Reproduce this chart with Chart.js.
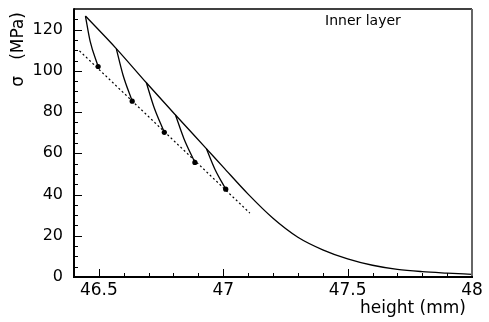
<!DOCTYPE html>
<html>
<head>
<meta charset="utf-8">
<script src="https://cdn.jsdelivr.net/npm/chart.js@4.4.1/dist/chart.umd.min.js"></script>
<style>
  html, body { margin: 0; padding: 0; background: #fff; }
  #wrap { width: 489px; height: 322px; }
</style>
</head>
<body>
<div id="wrap"><canvas id="c" width="489" height="322"></canvas></div>
<script>
// ---- data ----
const xTicks = [46.5, 47, 47.5, 48];
const xTickLabels = ['46.5', '47', '47.5', '48'];
const yTicks = [0, 20, 40, 60, 80, 100, 120];
const yTickLabels = ['0', '20', '40', '60', '80', '100', '120'];
const xMinorTicks = [46.6, 46.7, 46.8, 46.9, 47.1, 47.2, 47.3, 47.4, 47.6, 47.7, 47.8, 47.9];
const yMinorTicks = [5, 10, 15, 25, 30, 35, 45, 50, 55, 65, 70, 75, 85, 90, 95, 105, 110, 115, 125];

// loading envelope (solid)
const envX = [46.446, 46.570, 46.691, 46.808, 46.932, 47.0, 47.1, 47.2, 47.3, 47.4, 47.5, 47.6, 47.7, 47.8, 47.9, 48.0];
const envY = [126.6, 110.8, 94.2, 78.6, 62.3, 53.3, 40.2, 28.5, 19.3, 13.2, 8.8, 5.7, 3.7, 2.6, 1.9, 1.3];

// unloading branches (solid)
const unload1X = [46.446, 46.465, 46.497];
const unload1Y = [126.6, 114.3, 102.1];
const unload2X = [46.570, 46.597, 46.634];
const unload2Y = [110.8, 98.0, 85.3];
const unload3X = [46.691, 46.722, 46.763];
const unload3Y = [94.2, 82.2, 70.2];
const unload4X = [46.808, 46.842, 46.886];
const unload4Y = [78.6, 67.1, 55.6];
const unload5X = [46.932, 46.966, 47.010];
const unload5Y = [62.3, 52.4, 42.6];

// end points (filled markers)
const dotX = [46.497, 46.634, 46.763, 46.886, 47.010];
const dotY = [102.1, 85.3, 70.2, 55.6, 42.6];

// dotted line
const fitX = [46.422, 47.107];
const fitY = [109.7, 31.0];

const pts = (xs, ys) => xs.map((v, i) => ({ x: v, y: ys[i] }));

const FONT = "'DejaVu Sans', sans-serif";

const lineDs = (xs, ys) => ({
  data: pts(xs, ys), borderColor: '#000', borderWidth: 1.3, pointRadius: 0,
  showLine: true, fill: false, cubicInterpolationMode: 'monotone'
});

const framePlugin = {
  id: 'frame',
  afterDraw(chart) {
    const { ctx, chartArea: { left, right, top, bottom }, scales: { x, y } } = chart;
    ctx.save();
    ctx.strokeStyle = '#000';
    ctx.lineWidth = 1;
    const seg = (x1, y1, x2, y2) => { ctx.beginPath(); ctx.moveTo(x1, y1); ctx.lineTo(x2, y2); ctx.stroke(); };
    xTicks.forEach(v => { const p = Math.round(x.getPixelForValue(v)) + 0.5; seg(p, bottom, p, bottom - 8); });
    xMinorTicks.forEach(v => { const p = Math.round(x.getPixelForValue(v)) + 0.5; seg(p, bottom, p, bottom - 4); });
    yTicks.forEach(v => { const p = Math.round(y.getPixelForValue(v)) + 0.5; seg(left, p, left + 8, p); });
    yMinorTicks.forEach(v => { const p = Math.round(y.getPixelForValue(v)) + 0.5; seg(left, p, left + 4, p); });
    // frame
    ctx.lineWidth = 1.5;
    seg(left, top, right, top);
    ctx.strokeStyle = '#666';
    ctx.lineWidth = 2;
    seg(right, top, right, bottom);
    ctx.strokeStyle = '#000';
    seg(left, top - 0.75, left, bottom + 1);
    seg(left - 1, bottom, right + 1, bottom);
    // texts
    ctx.fillStyle = '#000';
    ctx.font = '17px ' + FONT;
    ctx.textAlign = 'right';
    ctx.textBaseline = 'alphabetic';
    ctx.fillText('height (mm)', 466, 313);
    ctx.font = '14px ' + FONT;
    ctx.textAlign = 'left';
    ctx.fillText('Inner layer', 325, 25);
    ctx.font = '17px ' + FONT;
    ctx.translate(19, 12);
    ctx.rotate(-Math.PI / 2);
    ctx.textAlign = 'right';
    ctx.textBaseline = 'middle';
    ctx.fillText('\u03c3   (MPa)', 0, 0);
    ctx.restore();
  }
};

new Chart(document.getElementById('c'), {
  type: 'scatter',
  data: {
    datasets: [
      lineDs(envX, envY),
      lineDs(unload1X, unload1Y),
      lineDs(unload2X, unload2Y),
      lineDs(unload3X, unload3Y),
      lineDs(unload4X, unload4Y),
      lineDs(unload5X, unload5Y),
      { data: pts(fitX, fitY), borderColor: '#000', borderWidth: 1.2, borderDash: [2, 2.5],
        pointRadius: 0, showLine: true, fill: false },
      { data: pts(dotX, dotY), showLine: false, pointRadius: 2.6, pointBackgroundColor: '#000',
        pointBorderColor: '#000', pointBorderWidth: 0 }
    ]
  },
  options: {
    responsive: false,
    animation: false,
    devicePixelRatio: 1,
    layout: { padding: { top: 9, right: 17, left: 0, bottom: 0 } },
    plugins: { legend: { display: false }, tooltip: { enabled: false } },
    scales: {
      x: {
        type: 'linear', min: 46.4, max: 48,
        afterBuildTicks: s => { s.ticks = xTicks.map(v => ({ value: v })); },
        afterFit: s => { s.height = 45; s.paddingLeft = 0; s.paddingRight = 0; s.paddingTop = 0; s.paddingBottom = 0; },
        grid: { display: false, drawTicks: false },
        border: { display: false },
        ticks: {
          color: '#000', font: { family: FONT, size: 17 }, padding: 3, maxRotation: 0, autoSkip: false,
          callback: (v) => { const i = xTicks.indexOf(v); return i >= 0 ? xTickLabels[i] : ''; }
        }
      },
      y: {
        type: 'linear', min: 0, max: 130,
        afterBuildTicks: s => { s.ticks = yTicks.map(v => ({ value: v })); },
        afterFit: s => { s.width = 74; s.paddingLeft = 0; s.paddingRight = 0; s.paddingTop = 0; s.paddingBottom = 0; },
        grid: { display: false, drawTicks: false },
        border: { display: false },
        ticks: {
          color: '#000', font: { family: FONT, size: 16 }, padding: 11,
          callback: (v) => { const i = yTicks.indexOf(v); return i >= 0 ? yTickLabels[i] : ''; }
        }
      }
    }
  },
  plugins: [framePlugin]
});
</script>
</body>
</html>
